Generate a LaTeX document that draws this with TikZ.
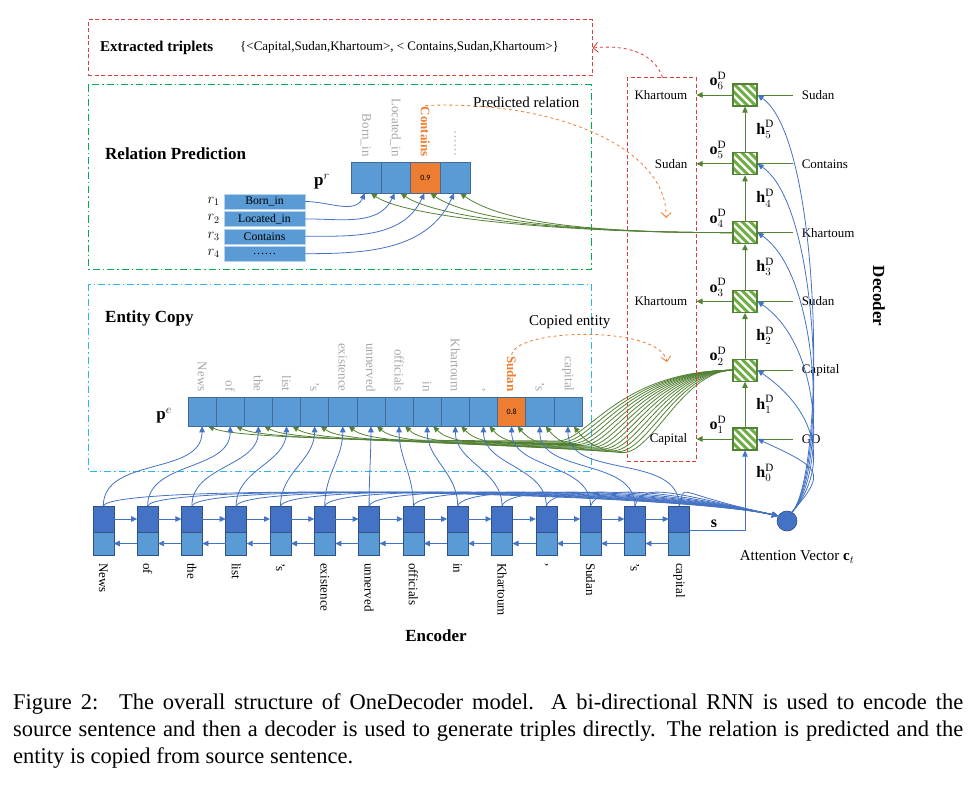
\documentclass[tikz,border=0pt]{standalone}
\usepackage{fontspec}
\setmainfont{Liberation Serif}
\newfontfamily\numfont{Carlito}
\usetikzlibrary{shapes,arrows.meta,positioning,calc,backgrounds}
\definecolor{cellblue}{HTML}{5B9BD5}
\definecolor{encblue}{HTML}{4472C4}
\definecolor{cellorange}{HTML}{ED7D31}
\definecolor{decgreen}{HTML}{548235}
\definecolor{stripegreen}{HTML}{70AD47}
\definecolor{framered}{HTML}{D9403A}
\definecolor{framegreen}{HTML}{00B050}
\definecolor{framecyan}{HTML}{2FB5EE}
\definecolor{wordgray}{HTML}{A6A6A6}
\tikzset{
  grayword/.style={
    rotate=-90,anchor=east,inner sep=1pt,text=wordgray,font=\fontsize{13}{15}\selectfont,
  },
  encword/.style={
    rotate=-90,anchor=west,inner sep=1pt,font=\fontsize{13}{15}\selectfont,
  },
}
\def\srcwords{News,of,the,list,'s,existence,unnerved,officials,in,Khartoum,{,},Sudan,'s,capital}

\begin{document}
\begin{tikzpicture}[x=1pt,y=1pt,
        cell/.style={
             rectangle
            , draw=cellblue!70!black
            , line width=0.5pt
            , fill=cellblue
            , inner sep=0pt
            , font=\numfont\fontsize{8}{9}\selectfont
        }
        , relbox/.style={
             rectangle
            , draw=cellblue!45!white
            , fill=cellblue
            , inner sep=0pt
            , minimum width=81pt
            , minimum height=15pt
            , font=\fontsize{11.7}{13}\selectfont
        }
        , enctop/.style={
             rectangle
            , draw=encblue!70!black
            , fill=encblue
            , line width=0.5pt
            , outer sep=0pt
            , minimum width=21pt
            , minimum height=26pt
        }
        , encbot/.style={
             enctop
            , fill=cellblue
            , minimum height=23pt
        }
        , deccell/.style={
             rectangle
            , draw=decgreen
            , line width=1.2pt
            , fill=white
            , inner sep=0pt
            , minimum width=24pt
            , minimum height=22pt
            , path picture={
                \foreach \s in {-24,-16,...,24}
                  \draw[stripegreen,line width=3pt]
                    ([shift={({\s-15},15)}]path picture bounding box.center) -- ++(30,-30);
              }
        }
        , redframe/.style={draw=framered,line width=1pt,dash pattern=on 4pt off 2.5pt}
        , greenframe/.style={draw=framegreen,line width=1pt,dash pattern=on 7pt off 3pt on 1.5pt off 3pt}
        , cyanframe/.style={draw=framecyan,line width=1pt,dash pattern=on 7pt off 3pt on 1.5pt off 3pt}
        , bluearrow/.style={draw=encblue,line width=0.8pt,-{Triangle[length=6pt,width=5.5pt]}}
        , greenarrow/.style={draw=decgreen,line width=0.8pt,-{Triangle[length=6pt,width=5.5pt]}}
        , greenline/.style={draw=decgreen,line width=0.8pt}
        , orangedash/.style={draw=cellorange,line width=0.8pt,dashed,-{Straight Barb[length=5pt,width=10pt]}}
        , reddash/.style={draw=framered,line width=0.8pt,dashed,-{Straight Barb[length=5pt,width=10pt]}}
        , word/.style={inner sep=1pt,font=\fontsize{13}{15}\selectfont}
        , inword/.style={word,inner xsep=9pt}
        , outword/.style={word,inner xsep=9pt,anchor=east}
        , mathlbl/.style={inner sep=1pt,font=\fontsize{16}{18}\selectfont}
        , title/.style={anchor=west,inner sep=1pt,font=\bfseries\fontsize{17}{19}\selectfont}
        , attn/.style={circle,fill=encblue,draw=encblue!70!black,line width=0.6pt,minimum size=20pt,inner sep=0pt}
        ]
        \useasboundingbox (0,0) rectangle (973,-786);

        % frames
        \node[redframe,minimum width=504pt,minimum height=56pt] (triplets) at (340,-48) {};
        \node[redframe,minimum width=69pt,minimum height=383pt] (outbox) at (661.5,-269.5) {};

        % decoder
        \node[deccell] (d1) at (745,-439) {};
        \node[deccell,above=45.6pt of d1] (d2) {};
        \node[deccell,above=45.6pt of d2] (d3) {};
        \node[deccell,above=45.6pt of d3] (d4) {};
        \node[deccell,above=45.6pt of d4] (d5) {};
        \node[deccell,above=45.6pt of d5] (d6) {};

        % vectors
        \foreach \i/\f/\v in {1/cellblue/,2/cellblue/,3/cellorange/0.9,4/cellblue/}
          \node[cell,fill=\f,minimum width=29.75pt,minimum height=31pt] (pr\i) at ({351+29.75*(\i-0.5)},-177.5) {\v};
        \foreach \w [count=\i] in \srcwords {
          \ifnum\i=12 \def\cfill{cellorange}\def\cval{0.8}\else\def\cfill{cellblue}\def\cval{}\fi
          \node[cell,fill=\cfill,minimum width=28.14pt,minimum height=29pt] (ent\i) at ({188+28.14*(\i-0.5)},-411.5) {\cval};
        }

        % relation list
        \node[relbox] (r1) at (264.5,-201.5) {Born\_in};
        \node[relbox,below=2pt of r1] (r2) {Located\_in};
        \node[relbox,below=2pt of r2] (r3) {Contains};
        \node[relbox,below=2pt of r3] (r4) {\dots\dots};
        \foreach \i in {1,...,4}
          \node[left=3pt of r\i,inner sep=1pt,font=\fontsize{14}{16}\selectfont] (rname\i) {$r_\i$};

        % encoder
        \foreach \i in {1,...,14} {
          \node[enctop] (et\i) at ({103.3+44.3*(\i-1)},-519) {};
          \node[encbot,below=0pt of et\i] (eb\i) {};
        }
        \node[attn] (att) at (787,-521) {};

        \begin{scope}[on background layer]
          \draw[greenframe] (88,-85) rectangle (591,-269);
          \draw[cyanframe] (88,-284) rectangle (591,-471);
          \foreach \i/\t in {1/Born\_in,2/Located\_in,4/\dots\dots}
            \node[grayword] (prl\i) at ([yshift=4pt]pr\i.north) {\t};
          \node[grayword,text=cellorange,font=\bfseries\fontsize{13}{15}\selectfont] (prl3) at ([yshift=4pt]pr3.north) {Contains};
          \foreach \w [count=\i] in \srcwords {
            \ifnum\i=12
              \node[grayword,text=cellorange,font=\bfseries\fontsize{13}{15}\selectfont] (entl\i) at ([yshift=4pt]ent\i.north) {\w};
            \else
              \node[grayword] (entl\i) at ([yshift=4pt]ent\i.north) {\w};
            \fi
          }
          % copy links: down from o2, along the bottom, up into each cell
          \foreach \i in {1,...,14} {
            \pgfmathsetmacro\xd{588+5*(\i-1)}
            \pgfmathsetmacro\yb{-(440+0.9*\i)}
            \pgfmathsetmacro\xe{188+28.14*(\i-0.5)}
            \draw[greenarrow] (d2.west) .. controls ({\xd+30},-371) and (\xd,\yb) .. ({\xd-30},\yb)
              .. controls ({\xe+35},\yb) and ({\xe+18},{\yb+10}) .. ([xshift=6pt]ent\i.south);
          }
          % relation links
          \foreach \i in {1,...,4}
            \draw[greenarrow] (d4.west) .. controls (560,-233) and ([shift={(40,-24)}]pr\i.south) .. ([xshift=5pt]pr\i.south);
        \end{scope}

        % titles
        \node[anchor=west,inner sep=1pt,font=\bfseries\fontsize{15}{17}\selectfont] (tripname) at (99,-48) {Extracted triplets};
        \node[anchor=west,inner sep=1pt,font=\fontsize{13}{15}\selectfont] (triptext) at (239,-47) {\{<Capital,Sudan,Khartoum>, < Contains,Sudan,Khartoum>\}};
        \node[title] (relname) at (104,-154) {Relation Prediction};
        \node[title] (entname) at (104,-318) {Entity Copy};
        \node[anchor=west,inner sep=1pt,font=\fontsize{15}{17}\selectfont] (prednote) at (472,-102) {Predicted relation};
        \node[anchor=west,inner sep=1pt,font=\fontsize{15}{17}\selectfont] (copynote) at (528,-322) {Copied entity};
        \node[mathlbl,font=\fontsize{17}{19}\selectfont] (prname) at (322,-182) {$\mathbf{p}^{r}$};
        \node[mathlbl,font=\fontsize{17}{19}\selectfont] (pename) at (164,-416) {$\mathbf{p}^{e}$};

        % relation inputs
        \foreach \i in {1,...,4}
          \draw[bluearrow] (r\i.east) to[out=0,in=-115] ([xshift=-1pt]pr\i.south);

        % encoder links
        \foreach \i in {1,...,13} {
          \pgfmathtruncatemacro\j{\i+1}
          \draw[bluearrow] (et\i) -- (et\j);
          \draw[bluearrow] (eb\j) -- (eb\i);
        }
        \foreach \w [count=\i] in \srcwords
          \node[encword] (ew\i) at ([yshift=-7pt]eb\i.south) {\w};
        \node[font=\bfseries\fontsize{17}{19}\selectfont] (encname) at (436,-636) {Encoder};
        \foreach \i in {1,...,14} {
          \draw[bluearrow] (et\i.north) to[out=90,in=-90] (ent\i.south);
          \draw[bluearrow] (et\i.north) .. controls +(8,24) and +(-110,24) .. (att.150);
        }

        % decoder links
        \draw[bluearrow] ([yshift=-11pt]et14.east) -| node[pos=0.22,above=-1pt,font=\bfseries\fontsize{16}{18}\selectfont] {s}
          node[pos=0.86,right=10pt,mathlbl] {$\mathbf{h}_0^{\mathrm{D}}$} (d1);
        \foreach \k/\n in {1/2,2/3,3/4,4/5,5/6}
          \draw[greenarrow] (d\k) -- node[right=10pt,mathlbl] {$\mathbf{h}_{\k}^{\mathrm{D}}$} (d\n);
        \foreach \k/\w in {1/GO,2/Capital,3/Sudan,4/Khartoum,5/Contains,6/Sudan} {
          \node[inword,right=35pt of d\k] (in\k) {\w};
          \draw[greenline] (in\k) -- (d\k);
        }
        \foreach \k/\w in {1/Capital,3/Khartoum,5/Sudan,6/Khartoum} {
          \node[outword] (out\k) at (outbox.east |- d\k) {\w};
          \draw[greenarrow] (d\k) -- (out\k);
        }
        \foreach \k in {1,...,6}
          \node[mathlbl] (o\k) at ([shift={(-27,14)}]d\k) {$\mathbf{o}_{\k}^{\mathrm{D}}$};
        \foreach \k/\b in {1/30,2/45,3/45,4/45,5/45,6/45}
          \draw[bluearrow] (att.60) .. controls (826,-472) and ([shift={(65,-\b)}]d\k.east) .. (d\k.east);
        \node[inner sep=1pt,font=\fontsize{15}{17}\selectfont] (attname) at (797,-557) {Attention Vector $\mathbf{c}_t$};
        \node[rotate=-90,font=\bfseries\fontsize{17}{19}\selectfont] (decname) at (879,-296) {Decoder};

        % highlighted picks
        \coordinate (reltip) at (666,-218);
        \coordinate (enttip) at (667,-362);
        \draw[orangedash] (prl3.west) .. controls (560,-100) and (668,-150) .. (reltip);
        \draw[orangedash] (entl12.west) .. controls (515,-328) and (660,-325) .. (enttip);
        \draw[reddash] ([xshift=1pt]outbox.north) .. controls (655,-55) and (630,-44) .. (triplets.east);

        \node[anchor=north west,text width=950pt,align=justify,inner sep=0pt,font=\fontsize{22.5}{27}\selectfont] (caption) at (13,-693)
          {Figure 2:\hspace{0.3em} The overall structure of OneDecoder model.  A bi-directional RNN is used to encode the\linebreak source sentence and then a decoder is used to generate triples directly. The relation is predicted and the\linebreak entity is copied from source sentence.};
    \end{tikzpicture}
\end{document}
